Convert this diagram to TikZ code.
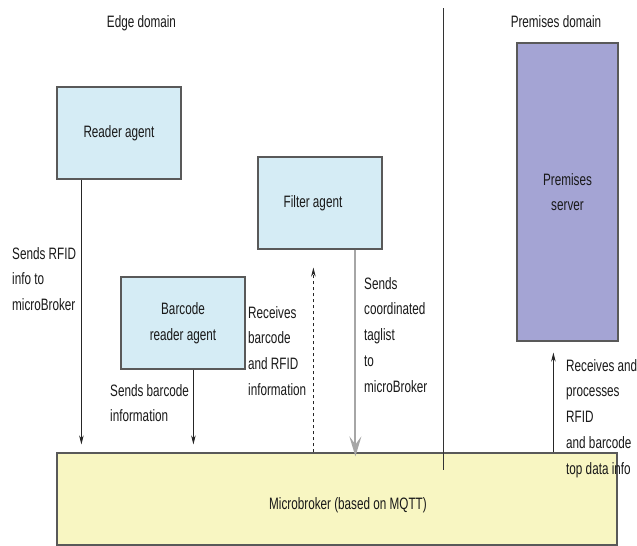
\documentclass[tikz,border=0pt]{standalone}
\usepackage{fontspec}
\setmainfont{Liberation Sans}[FakeStretch=0.71]
\usepackage{xcolor}
\usetikzlibrary{arrows.meta}
\definecolor{agentblue}{RGB}{213,236,245}
\definecolor{serverviolet}{RGB}{164,164,212}
\definecolor{brokeryellow}{RGB}{248,246,194}
\definecolor{inkgray}{RGB}{25,25,25}

\begin{document}
\begin{tikzpicture}[x=1pt,y=-1pt,
    every node/.style={font=\fontsize{16.5}{25.8}\selectfont, text=inkgray},
    agent/.style={draw=black!65, line width=1.2pt, fill=agentblue, align=center, inner sep=0pt},
    server/.style={agent, fill=serverviolet},
    bus/.style={agent, fill=brokeryellow},
    note/.style={anchor=north west, align=left, inner sep=0pt},
    flow/.style={-{Stealth[length=9pt,width=4.5pt]}, line width=0.8pt, draw=black!85},
    query/.style={flow, dash pattern=on 3pt off 3pt},
    taglist/.style={-{Stealth[length=20pt,width=12pt,inset=8pt]}, line width=2pt, draw=black!35}]
    \useasboundingbox (0,0) rectangle (637,546);
        % domains
        \node (edgedom) at (141.5,23) {Edge domain};
        \node (premdom) at (556,22) {Premises domain};
        % agents and server
        \node[agent, minimum width=124pt, minimum height=92pt] (reader) at (119,133) {Reader agent};
        \node[agent, minimum width=124pt, minimum height=92pt] (filter) at (320,203) {\hspace*{-14pt}Filter agent};
        \node[agent, minimum width=124pt, minimum height=92pt] (barcode) at (183,323) {Barcode\\reader agent};
        \node[server, minimum width=101pt, minimum height=298pt] (premises) at (567.5,192) {Premises\\server};
        \node[bus, minimum width=560pt, minimum height=92pt] (broker) at (337,499) {};
        \node (brokertext) at (348,505) {Microbroker (based on MQTT)};
        \draw[line width=0.9pt, black!80] (443,8) -- (443,470);
        % messages
        \draw[flow, shorten >=8pt] ([xshift=25pt]reader.south west) -- ([xshift=25pt]reader.south west |- broker.north);
        \draw[flow, shorten >=8pt] ([xshift=73pt]barcode.south west) -- ([xshift=73pt]barcode.south west |- broker.north);
        \draw[query, shorten >=18pt] ([xshift=56pt]filter.south west |- broker.north) -- ([xshift=56pt]filter.south west);
        \draw[taglist, shorten >=-4pt] ([xshift=98pt]filter.south west) -- ([xshift=98pt]filter.south west |- broker.north);
        \draw[flow, shorten >=11pt] ([xshift=37pt]premises.south west |- broker.north) -- ([xshift=37pt]premises.south west);
        % labels
        \node[note] (rfidnote) at (12,247) {Sends RFID\\info to\\microBroker};
        \node[note] (barcodenote) at (110,384) {Sends barcode\\information};
        \node[note] (receivenote) at (248,306) {Receives\\barcode\\and RFID\\information};
        \node[note] (tagnote) at (364,277) {Sends\\coordinated\\taglist\\to\\microBroker};
        \node[note] (premnote) at (566,359) {Receives and\\processes\\RFID\\and barcode\\top data info};
    \end{tikzpicture}
\end{document}
